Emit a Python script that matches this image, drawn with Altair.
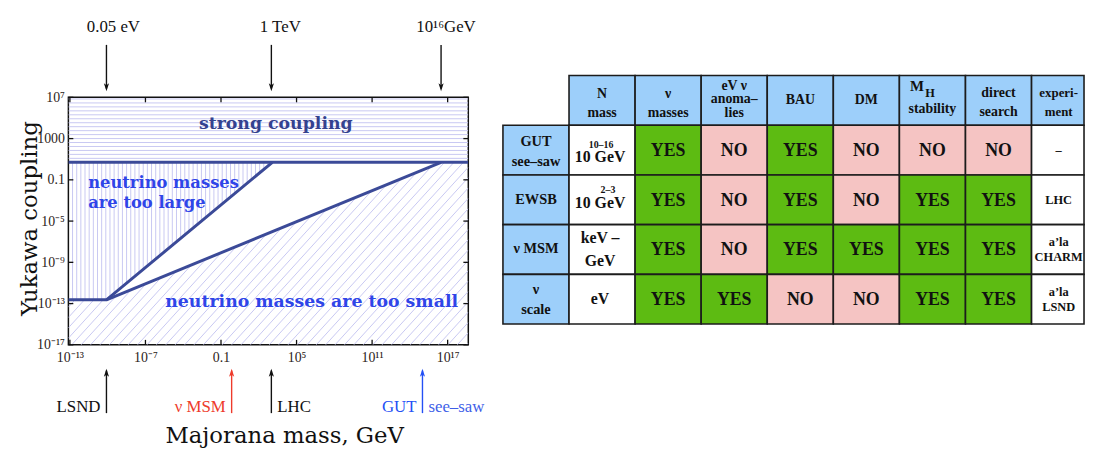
import altair as alt
import numpy as np
import pandas as pd

# ================= Left panel: values =================
x_tick_values = [1e-13, 1e-7, 0.1, 1e5, 1e11, 1e17]
x_tick_labels = ["10⁻¹³", "10⁻⁷", "0.1", "10⁵", "10¹¹", "10¹⁷"]
y_tick_values = [1e7, 1e3, 0.1, 1e-5, 1e-9, 1e-13, 1e-17]
y_tick_labels = ["10⁷", "1000", "0.1", "10⁻⁵", "10⁻⁹", "10⁻¹³", "10⁻¹⁷"]
x_domain = [10 ** -13.12, 10 ** 18.64]
y_domain = [1e-17, 1e7]

y_strong = 5.0        # strong-coupling limit
y_floor = 2.3e-13     # lower horizontal boundary
m_knee = 8e-11        # where the two boundary lines start
m_upper_end = 1.2e3   # upper line reaches strong coupling
m_lower_end = 3e16    # lower line reaches strong coupling

boundary_seg = ["strong", "strong", "upper", "upper", "upper", "lower", "lower"]
boundary_m = [x_domain[0], x_domain[1], x_domain[0], m_knee, m_upper_end, m_knee, m_lower_end]
boundary_y = [y_strong, y_strong, y_floor, y_floor, y_strong, y_floor, y_strong]

region_text = ["strong coupling", "neutrino masses\nare too large", "neutrino masses are too small"]
region_m = [10 ** 3.35, 10 ** -11.55, 10 ** 6.2]
region_y = [10 ** 4.44, 10 ** -1.32, 10 ** -12.84]
region_align = ["center", "left", "center"]
region_color = ["#34428f", "#2f45e8", "#2f45e8"]
region_size = [17.5, 16.5, 17.5]

top_arrow_m = [8e-11, 1e3, 3e16]
top_arrow_text = ["0.05 eV", "1 TeV", "10¹⁶GeV"]
top_arrow_dx = [7, 9, 5]

bottom_arrow_m = [8e-11, 0.7, 1e3, 1e15]
bottom_arrow_color = ["#111111", "#ee3b2b", "#111111", "#2450f5"]
bottom_label_text = ["LSND", "ν MSM", "LHC", "GUT", "see–saw"]
bottom_label_m = [8e-11, 0.7, 1e3, 1e15, 1e15]
bottom_label_side = ["right", "right", "left", "right", "left"]
bottom_label_color = ["#111111", "#ee3b2b", "#111111", "#2450f5", "#3f5fe8"]

# ================= Right panel: table =================
header_labels = ["N\nmass", "ν\nmasses", "eV  ν\nanoma–\nlies", "BAU", "DM", "stability",
                 "direct\nsearch", "experi-\nment"]
row_labels = ["GUT\nsee–saw", "EWSB", "ν MSM", "ν\nscale"]
n_mass = ["10 GeV", "10 GeV", "keV –\nGeV", "eV"]
n_mass_sup = ["10–16", "2–3"]
verdict_columns = ["ν masses", "eV ν anomalies", "BAU", "DM", "M_H stability", "direct search"]
verdict_nu_masses = ["YES", "YES", "YES", "YES"]
verdict_anomalies = ["NO", "NO", "NO", "YES"]
verdict_bau = ["YES", "YES", "YES", "NO"]
verdict_dm = ["NO", "NO", "YES", "NO"]
verdict_mh = ["NO", "YES", "YES", "YES"]
verdict_direct = ["NO", "YES", "YES", "YES"]
experiment = ["–", "LHC", "a’la\nCHARM", "a’la\nLSND"]

# ================= styles =================
FONT = "Liberation Serif"
TITLE_FONT = "DejaVu Serif"
HATCH = "#c8c8f2"
LINE = "#3b4a98"
W, H = 404, 250


def label_expr(values, labels):
    expr = "''"
    for v, lab in reversed(list(zip(values, labels))):
        expr = f"abs(log(datum.value) / LN10 - ({np.log10(v):.3f})) < 0.01 ? '{lab}' : ({expr})"
    return expr


x_axis = alt.Axis(values=x_tick_values, labelExpr=label_expr(x_tick_values, x_tick_labels),
                  title="Majorana mass, GeV", grid=False, domain=False, ticks=False,
                  labelFont=FONT, labelFontSize=14, labelColor="#2a2118", labelPadding=6,
                  labelOverlap=False, labelFlush=False,
                  titleFont=TITLE_FONT, titleFontSize=23, titleFontWeight="normal",
                  titleColor="#111111", titleX=218, titleY=92, titleBaseline="middle")
y_axis = alt.Axis(values=y_tick_values, labelExpr=label_expr(y_tick_values, y_tick_labels),
                  title="Yukawa coupling", grid=False, domain=False, ticks=False,
                  labelFont=FONT, labelFontSize=14, labelColor="#2a2118", labelPadding=4,
                  labelOverlap=False, labelFlush=False,
                  titleFont=TITLE_FONT, titleFontSize=23, titleFontWeight="normal",
                  titleColor="#111111", titleX=-39, titleY=122, titleBaseline="middle")
XS = alt.Scale(type="log", domain=x_domain, nice=False)
YS = alt.Scale(type="log", domain=y_domain, nice=False)


def X(f):
    return alt.X(f, type="quantitative", scale=XS, axis=x_axis)


def Y(f):
    return alt.Y(f, type="quantitative", scale=YS, axis=y_axis)


# ---- hatching geometry (decoration, derived from the boundaries) ----
lx0, lx1 = np.log10(x_domain)
ly0, ly1 = np.log10(y_domain)
ppd_x = W / (lx1 - lx0)
ppd_y = H / (ly1 - ly0)
ls, lf = np.log10(y_strong), np.log10(y_floor)
lk, lu, ll = np.log10(m_knee), np.log10(m_upper_end), np.log10(m_lower_end)

hy = np.arange(ls + 4.0 / ppd_y, ly1, 4.0 / ppd_y)
hatch_h = pd.DataFrame({"y": 10 ** hy, "x": x_domain[0], "x2": x_domain[1]})

vx = np.arange(lx0 + 4.2 / ppd_x, lu, 4.2 / ppd_x)
vlow = np.interp(vx, [lk, lu], [lf, ls])
hatch_v = pd.DataFrame({"x": 10 ** vx, "y": 10 ** vlow, "y2": y_strong})

slope = 1.1 * ppd_x / ppd_y
step = 9.5 / ppd_x
bx = [lx0, lk, ll, lx1]
by = [lf, lf, ls, ls]
drows = []
for u0 in np.arange(lx0 - (ls - ly0) / slope, lx1, step):
    us = max(u0, lx0)
    ys_ = ly0 + slope * (us - u0)
    if ys_ >= np.interp(us, bx, by):
        continue
    g = [ly0 + slope * (b - u0) - yb for b, yb in zip(bx, by)]
    ue = np.interp(0.0, g, bx) if g[-1] > 0 else lx1
    ye = ly0 + slope * (ue - u0)
    drows.append({"x": 10 ** us, "y": 10 ** ys_, "x2": 10 ** ue, "y2": 10 ** ye})
hatch_d = pd.DataFrame(drows)

layers = []
layers.append(alt.Chart(hatch_d).mark_rule(color=HATCH, strokeWidth=1.0, clip=True).encode(
    x=X("x"), y=Y("y"), x2="x2:Q", y2="y2:Q"))
layers.append(alt.Chart(hatch_v).mark_rule(color=HATCH, strokeWidth=1.0, clip=True).encode(
    x=X("x"), y=Y("y"), y2="y2:Q"))
layers.append(alt.Chart(hatch_h).mark_rule(color=HATCH, strokeWidth=1.0, clip=True).encode(
    x=X("x"), x2="x2:Q", y=Y("y")))

bdf = pd.DataFrame({"seg": boundary_seg, "m": boundary_m, "y": boundary_y,
                    "o": list(range(len(boundary_seg)))})
layers.append(alt.Chart(bdf).mark_line(color=LINE, strokeWidth=3, clip=True).encode(
    x=X("m"), y=Y("y"), detail="seg:N", order="o:Q"))

for t, m, yv, al, col, fs in zip(region_text, region_m, region_y, region_align, region_color,
                                 region_size):
    layers.append(alt.Chart(pd.DataFrame({"t": [t], "m": [m], "y": [yv]})).mark_text(
        font=TITLE_FONT, fontWeight="bold", fontSize=fs,
        color=col, align=al, baseline="middle", lineBreak="\n", lineHeight=20).encode(
        x=X("m"), y=Y("y"), text="t:N"))

# inward ticks
xt = pd.DataFrame({"v": x_tick_values})
yt = pd.DataFrame({"v": y_tick_values})
layers.append(alt.Chart(xt).mark_rule(color="#111111", strokeWidth=1.3).encode(
    x=X("v"), y=alt.value(H), y2=alt.value(H - 5)))
layers.append(alt.Chart(xt).mark_rule(color="#111111", strokeWidth=1.3).encode(
    x=X("v"), y=alt.value(0), y2=alt.value(5)))
layers.append(alt.Chart(yt).mark_rule(color="#111111", strokeWidth=1.3).encode(
    y=Y("v"), x=alt.value(0), x2=alt.value(5)))
layers.append(alt.Chart(yt).mark_rule(color="#111111", strokeWidth=1.3).encode(
    y=Y("v"), x=alt.value(W), x2=alt.value(W - 5)))

# top arrows
DOWN = "M0,1 L-0.55,-0.7 L0,-0.25 L0.55,-0.7 Z"
UP = "M0,-1 L-0.55,0.7 L0,0.25 L0.55,0.7 Z"
tdf = pd.DataFrame({"m": top_arrow_m, "t": top_arrow_text})
layers.append(alt.Chart(tdf).mark_rule(color="#111111", strokeWidth=1.4).encode(
    x=X("m"), y=alt.value(-53), y2=alt.value(-9)))
layers.append(alt.Chart(tdf).mark_point(shape=DOWN, filled=True, size=90, color="#111111",
                                        opacity=1).encode(x=X("m"), y=alt.value(-11)))
for m, t, dx in zip(top_arrow_m, top_arrow_text, top_arrow_dx):
    layers.append(alt.Chart(pd.DataFrame({"m": [m], "t": [t]})).mark_text(
        font=FONT, fontSize=17, color="#111111", dx=dx, baseline="middle").encode(
        x=X("m"), y=alt.value(-71), text="t:N"))

# bottom arrows
bdf2 = pd.DataFrame({"m": bottom_arrow_m, "c": bottom_arrow_color})
layers.append(alt.Chart(bdf2).mark_rule(strokeWidth=1.4).encode(
    x=X("m"), y=alt.value(276), y2=alt.value(319), color=alt.Color("c:N", scale=None)))
layers.append(alt.Chart(bdf2).mark_point(shape=UP, filled=True, size=90, opacity=1).encode(
    x=X("m"), y=alt.value(279), color=alt.Color("c:N", scale=None)))
bl = pd.DataFrame({"t": bottom_label_text, "m": bottom_label_m, "side": bottom_label_side,
                   "c": bottom_label_color})
for side, dx in [("right", -6), ("left", 6)]:
    layers.append(alt.Chart(bl[bl.side == side]).mark_text(
        font=FONT, fontSize=17, align=side, dx=dx, baseline="middle").encode(
        x=X("m"), y=alt.value(313), text="t:N", color=alt.Color("c:N", scale=None)))

left = alt.layer(*layers).properties(
    width=W, height=H, view=alt.ViewBackground(stroke="#111111", strokeWidth=1.5))

# ================= table chart =================
BLUE, GREEN, PINK, WHITE = "#9dcffa", "#5dbb12", "#f5c4c3", "#ffffff"
TW = 587
COL_PX = 66.75
XT = TW / COL_PX
ROW_PX = 50.2

rects, texts = [], []


def add_cell(c, r, fill):
    rects.append(dict(c=c, c2=min(c + 1, XT), r=r, r2=r + 1, fill=fill))


def add_text(c, r, text, fs, lh=19, dx=0.0, dy=0.0):
    n = text.count("\n") + 1
    dy = dy - (n - 1) * lh / 2.0   # centre the block of lines in the cell
    texts.append(dict(x=c + 0.5 + dx / COL_PX, y=r + 0.5 + dy / ROW_PX, text=text, fs=fs, lh=lh))


header_dy = [3, 3, -1, 0, 0, 9, 2, 2]
header_lh = [19, 19, 13.5, 19, 19, 19, 19, 19]
header_dx = [0, 0, 0, 0, 0, 0, 0, -6]
header_fs = [14, 14, 14, 14, 14, 14, 14, 13]
for j, lab in enumerate(header_labels):
    add_cell(j + 1, 0, BLUE)
    add_text(j + 1, 0, lab, header_fs[j], header_lh[j], dx=header_dx[j], dy=header_dy[j])
add_text(6, 0, "M", 15, dx=-15.5, dy=-14.5)
add_text(6, 0, "H", 12.5, dx=-2.5, dy=-7)

row_dy = [2, 0, 0, 1]
for i, lab in enumerate(row_labels):
    add_cell(0, i + 1, BLUE)
    add_text(0, i + 1, lab, 14.5, 20, dy=row_dy[i])

nm_dy = [7, 3, 0, 0]
for i, lab in enumerate(n_mass):
    add_cell(1, i + 1, WHITE)
    add_text(1, i + 1, lab, 16, 23, dx=-2, dy=nm_dy[i])
sup_dx = [-1, 6]
sup_dy = [-5, -10]
for i, lab in enumerate(n_mass_sup):
    add_text(1, i + 1, lab, 10, dx=sup_dx[i], dy=sup_dy[i])

verdicts = [verdict_nu_masses, verdict_anomalies, verdict_bau, verdict_dm, verdict_mh, verdict_direct]
for j, col in enumerate(verdicts):
    for i, v in enumerate(col):
        add_cell(j + 2, i + 1, GREEN if v == "YES" else PINK)
        add_text(j + 2, i + 1, v, 18, dy=1)

for i, lab in enumerate(experiment):
    add_cell(8, i + 1, WHITE)
    add_text(8, i + 1, lab, 12.5, 15, dx=-6)

rdf = pd.DataFrame(rects)
tdf2 = pd.DataFrame(texts)
TXS = alt.Scale(domain=[0, XT], nice=False, zero=False)
TYS = alt.Scale(domain=[0, 5], range=[-22, 229], nice=False, zero=False)

tlayers = [alt.Chart(rdf).mark_rect(stroke="#1c1c1c", strokeWidth=1.6).encode(
    x=alt.X("c:Q", scale=TXS, axis=None), x2="c2:Q",
    y=alt.Y("r:Q", scale=TYS, axis=None), y2="r2:Q",
    fill=alt.Fill("fill:N", scale=None))]
for lh in sorted(tdf2.lh.unique()):
    tlayers.append(alt.Chart(tdf2[tdf2.lh == lh]).mark_text(
        font=FONT, fontWeight="bold", color="#111111", baseline="middle", align="center",
        lineBreak="\n", lineHeight=float(lh)).encode(
        x=alt.X("x:Q", scale=TXS, axis=None), y=alt.Y("y:Q", scale=TYS, axis=None),
        text="text:N", size=alt.Size("fs:Q", scale=None)))

table = alt.layer(*tlayers).properties(
    width=TW, height=H, view=alt.ViewBackground(stroke="transparent"))

chart = alt.hconcat(left, table, spacing=35, bounds="flush").properties(
    padding={"left": 10, "top": 7, "right": 0, "bottom": 0}
).configure(background="white")

chart.save("out.html", embed_options={"renderer": "svg", "actions": False})
